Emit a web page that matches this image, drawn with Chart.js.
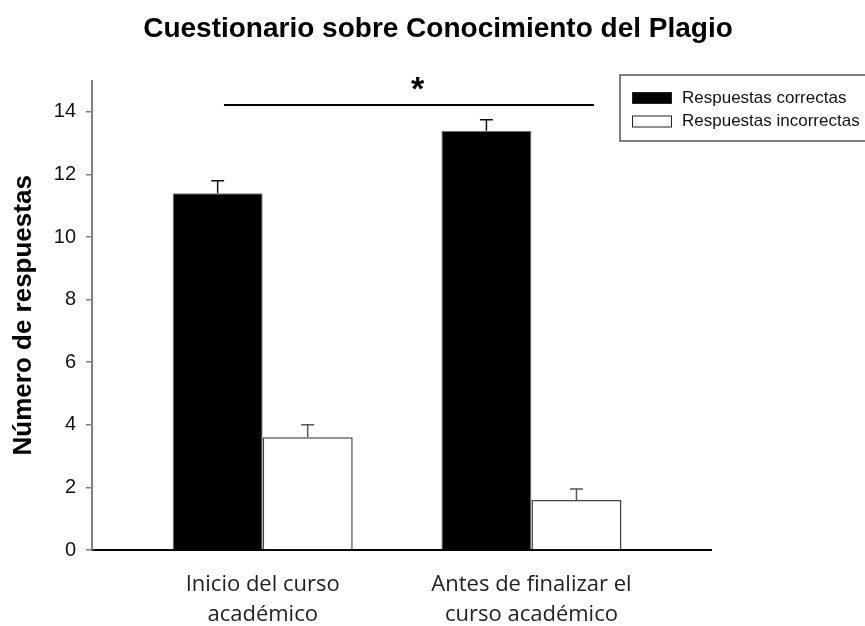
<!DOCTYPE html>
<html>
<head>
<meta charset="utf-8">
<script src="https://cdn.jsdelivr.net/npm/chart.js@4/dist/chart.umd.min.js"></script>
<style>
  html, body { margin: 0; padding: 0; background: #fff; }
  #wrap { width: 865px; height: 626px; }
</style>
</head>
<body>
<div id="wrap"><canvas id="chart"></canvas></div>
<script>
// data
const categories = [['Inicio del curso', 'académico'], ['Antes de finalizar el', 'curso académico']];
const seriesNames = ['Respuestas correctas', 'Respuestas incorrectas'];
const correctas = [11.4, 13.4];
const correctasErr = [0.4, 0.35];
const incorrectas = [3.6, 1.6];
const incorrectasErr = [0.4, 0.35];
const yTicks = [0, 2, 4, 6, 8, 10, 12, 14];

// significance bracket (data units)
const sigFrom = 0.856, sigTo = 2.233, sigY = 14.22, sigStar = 1.576;

const toPoints = vals => vals.map((v, i) => ({ x: i + 1, y: v }));

// error bars on top of every bar
const errorBars = {
  id: 'errorBars',
  afterDatasetsDraw(chart) {
    const ctx = chart.ctx;
    const y = chart.scales.y;
    chart.data.datasets.forEach((ds, i) => {
      const meta = chart.getDatasetMeta(i);
      meta.data.forEach((bar, j) => {
        const top = y.getPixelForValue(ds.data[j].y + ds.errors[j]);
        ctx.save();
        ctx.strokeStyle = ds.errorColor;
        ctx.lineWidth = 1.5;
        ctx.beginPath();
        ctx.moveTo(bar.x, bar.y);
        ctx.lineTo(bar.x, top);
        ctx.moveTo(bar.x - 6.5, top);
        ctx.lineTo(bar.x + 6.5, top);
        ctx.stroke();
        ctx.restore();
      });
    });
  }
};

// line + asterisk above the groups
const significance = {
  id: 'significance',
  afterDraw(chart) {
    const ctx = chart.ctx;
    const x = chart.scales.x, y = chart.scales.y;
    const py = y.getPixelForValue(sigY);
    ctx.save();
    ctx.strokeStyle = '#000';
    ctx.lineWidth = 2;
    ctx.beginPath();
    ctx.moveTo(x.getPixelForValue(sigFrom), py);
    ctx.lineTo(x.getPixelForValue(sigTo), py);
    ctx.stroke();
    ctx.fillStyle = '#000';
    ctx.font = 'bold 34px "Liberation Sans", Arial, sans-serif';
    ctx.textAlign = 'center';
    ctx.textBaseline = 'alphabetic';
    ctx.fillText('*', x.getPixelForValue(sigStar), py - 5);
    ctx.restore();
  }
};

// boxed legend at top right
const boxLegend = {
  id: 'boxLegend',
  afterDraw(chart) {
    const ctx = chart.ctx;
    ctx.save();
    ctx.strokeStyle = '#555';
    ctx.lineWidth = 1.5;
    ctx.strokeRect(620, 75, 300, 66);
    ctx.font = '17px "Liberation Sans", Arial, sans-serif';
    ctx.textBaseline = 'middle';
    ctx.textAlign = 'left';
    chart.data.datasets.forEach((ds, i) => {
      const top = 92 + i * 23.5;
      ctx.fillStyle = ds.backgroundColor;
      ctx.fillRect(632, top, 40, 12);
      ctx.strokeStyle = '#222';
      ctx.lineWidth = 1;
      ctx.strokeRect(632.5, top + 0.5, 39, 11);
      ctx.fillStyle = '#111';
      ctx.fillText(ds.label, 682, top + 6);
    });
    ctx.restore();
  }
};

new Chart(document.getElementById('chart'), {
  type: 'bar',
  data: {
    datasets: [
      {
        label: seriesNames[0],
        data: toPoints(correctas),
        errors: correctasErr,
        errorColor: '#111',
        backgroundColor: '#000',
        borderColor: '#777',
        borderWidth: 1
      },
      {
        label: seriesNames[1],
        data: toPoints(incorrectas),
        errors: incorrectasErr,
        errorColor: '#555',
        backgroundColor: '#fff',
        borderColor: '#444',
        borderWidth: 1.5
      }
    ]
  },
  options: {
    responsive: true,
    maintainAspectRatio: false,
    animation: false,
    devicePixelRatio: 1,
    categoryPercentage: 0.67,
    barPercentage: 1.0,
    layout: { padding: { left: 11, right: 0, top: 0, bottom: 0 } },
    plugins: {
      legend: { display: false },
      tooltip: { enabled: false },
      title: {
        display: true,
        text: 'Cuestionario sobre Conocimiento del Plagio',
        color: '#000',
        font: { family: '"Liberation Sans", Arial, sans-serif', size: 28, weight: 'bold', lineHeight: 1.2 },
        padding: { top: 12, bottom: 35 }
      }
    },
    scales: {
      x: {
        type: 'linear',
        min: 0.365,
        max: 2.668,
        offset: false,
        grid: { display: false, drawTicks: false },
        border: { display: true, color: '#000', width: 2 },
        afterBuildTicks: s => { s.ticks = categories.map((c, i) => ({ value: i + 1 })); },
        afterFit: s => { s.height = 76; },
        ticks: {
          autoSkip: false,
          maxRotation: 0,
          padding: 20,
          color: '#222',
          font: { family: '"Open Sans", sans-serif', size: 22, lineHeight: 1.364 },
          callback: v => categories[v - 1]
        }
      },
      y: {
        min: 0,
        max: 15,
        grid: { drawOnChartArea: false, drawTicks: true, tickLength: 6, color: '#808080', lineWidth: 1.5 },
        border: { display: true, color: '#808080', width: 2 },
        afterBuildTicks: s => { s.ticks = yTicks.map(v => ({ value: v })); },
        afterFit: s => { s.width = 81; },
        ticks: {
          padding: 10,
          color: '#111',
          font: { family: '"Liberation Sans", Arial, sans-serif', size: 20 }
        },
        title: {
          display: true,
          text: 'Número de respuestas',
          color: '#000',
          font: { family: '"Liberation Sans", Arial, sans-serif', size: 26, weight: 'bold', lineHeight: 1.2 },
          padding: { top: -3, bottom: 0 }
        }
      },
      yRight: {
        position: 'right',
        display: true,
        grid: { display: false, drawTicks: false },
        border: { display: false },
        ticks: { display: false },
        afterFit: s => { s.width = 154; }
      }
    }
  },
  plugins: [errorBars, significance, boxLegend]
});
</script>
</body>
</html>
